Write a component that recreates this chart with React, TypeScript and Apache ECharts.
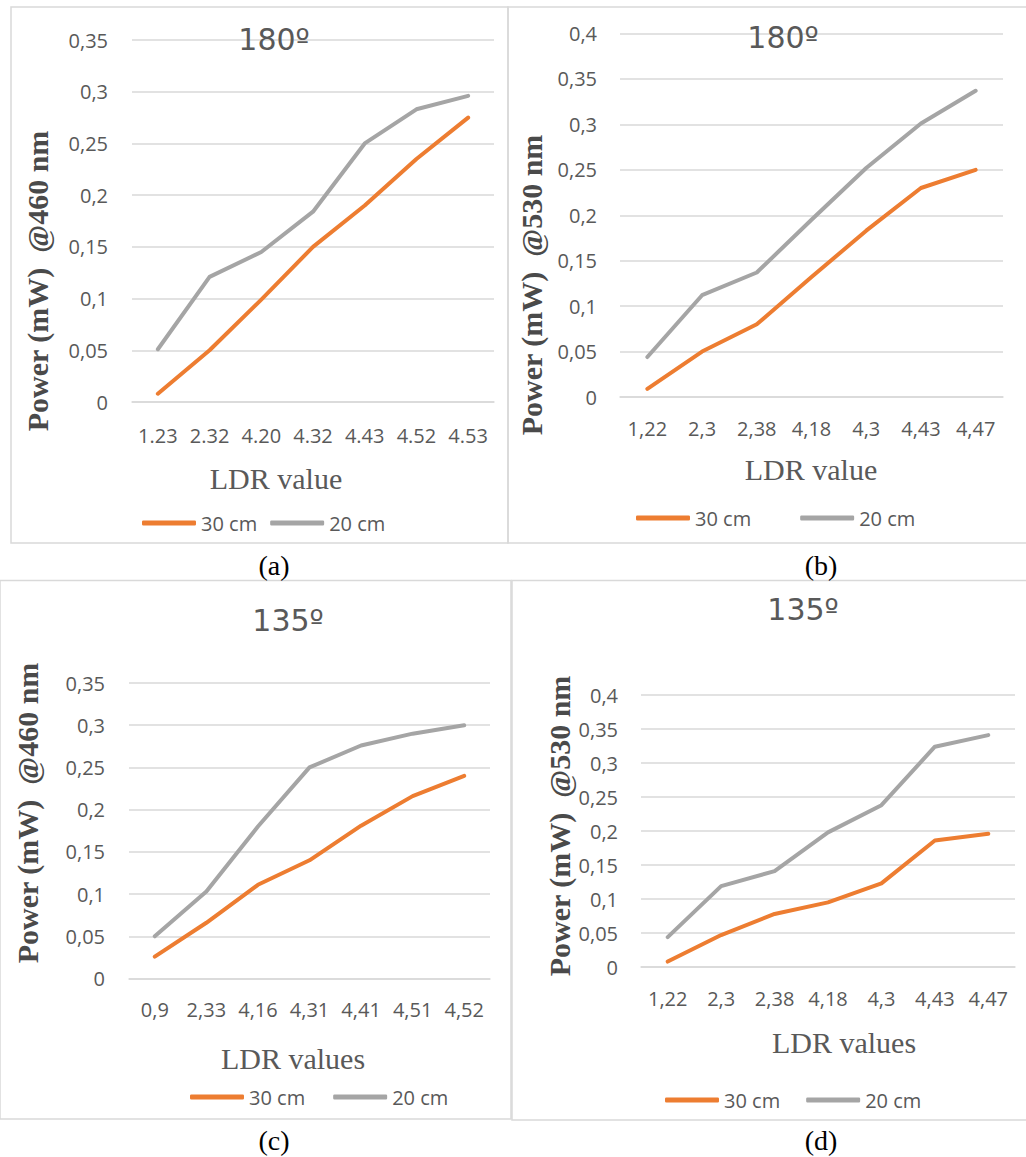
import React, { useEffect, useRef } from 'react';
import * as echarts from 'echarts';

// ---------- data ----------
const catsA = ['1.23', '2.32', '4.20', '4.32', '4.43', '4.52', '4.53'];
const a30 = [0.008, 0.05, 0.099, 0.15, 0.19, 0.235, 0.275];
const a20 = [0.051, 0.121, 0.145, 0.184, 0.25, 0.283, 0.296];

const catsB = ['1,22', '2,3', '2,38', '4,18', '4,3', '4,43', '4,47'];
const b30 = [0.009, 0.05, 0.08, 0.132, 0.183, 0.23, 0.25];
const b20 = [0.044, 0.112, 0.137, 0.195, 0.252, 0.301, 0.337];

const catsC = ['0,9', '2,33', '4,16', '4,31', '4,41', '4,51', '4,52'];
const c30 = [0.026, 0.066, 0.111, 0.14, 0.181, 0.216, 0.24];
const c20 = [0.05, 0.103, 0.18, 0.25, 0.276, 0.29, 0.3];

const catsD = ['1,22', '2,3', '2,38', '4,18', '4,3', '4,43', '4,47'];
const d30 = [0.008, 0.047, 0.078, 0.095, 0.123, 0.186, 0.196];
const d20 = [0.044, 0.119, 0.141, 0.198, 0.238, 0.324, 0.341];

const seriesNames = ['30 cm', '20 cm'];
const panelTitles = ['180º', '180º', '135º', '135º'];
const yTitles = ['Power (mW)  @460 nm', 'Power (mW)  @530 nm', 'Power (mW)  @460 nm', 'Power (mW)  @530 nm'];
const xTitles = ['LDR value', 'LDR value', 'LDR values', 'LDR values'];
const captions = ['(a)', '(b)', '(c)', '(d)'];
const yMaxes = [0.35, 0.4, 0.35, 0.4];

const panelData = [
  { cats: catsA, s30: a30, s20: a20 },
  { cats: catsB, s30: b30, s20: b20 },
  { cats: catsC, s30: c30, s20: c20 },
  { cats: catsD, s30: d30, s20: d20 },
];

// ---------- layout ----------
const W = 1026;
const H = 1157;
const layout = [
  { gl: 132, gr: 494, gt: 40, gb: 402, xm: 23, ym: 24, tx: 274, ty: 24, yx: 37, yy: 281, xx: 276, xy: 478, lx: 142, ly: 513, lg: 13, cx: 274, cy: 565, box: [11, 7, 497, 536] },
  { gl: 620, gr: 1003, gt: 33.5, gb: 397, xm: 21, ym: 23, tx: 783, ty: 22, yx: 531, yy: 285, xx: 811, xy: 469, lx: 636, ly: 508, lg: 49, cx: 821, cy: 565, box: [508, 7, 530, 536] },
  { gl: 129, gr: 490, gt: 683, gb: 978.5, xm: 21, ym: 24, tx: 288, ty: 605, yx: 27, yy: 813, xx: 293, xy: 1058, lx: 190, ly: 1087, lg: 28, cx: 274, cy: 1140, box: [0, 580.5, 511, 538.5] },
  { gl: 641, gr: 1015, gt: 695, gb: 967, xm: 21, ym: 23, tx: 803, ty: 594, yx: 559, yy: 826, xx: 844, xy: 1042, lx: 665, ly: 1090, lg: 26, cx: 821, cy: 1140, box: [512, 580.5, 530, 539.5] },
];

const ORANGE = '#ED7D31';
const GRAY = '#A5A5A5';
const TXT = '#595959';
const GRID = '#D9D9D9';
const SANS = 'Open Sans';
const TITLE_FONT = 'DejaVu Sans';
const SERIF = 'Liberation Serif';

const fmt = (v: number) => (v === 0 ? '0' : String(+v.toFixed(2)).replace('.', ','));

export default function App() {
  const ref = useRef<HTMLDivElement>(null);

  useEffect(() => {
    if (!ref.current) return;
    const chart = echarts.init(ref.current, undefined, { renderer: 'svg' });

    const grids: any[] = [];
    const xAxes: any[] = [];
    const yAxes: any[] = [];
    const series: any[] = [];
    const titles: any[] = [];
    const legends: any[] = [];
    const graphics: any[] = [];

    panelData.forEach((p, i) => {
      const L = layout[i];
      grids.push({ left: L.gl, right: W - L.gr, top: L.gt, bottom: H - L.gb, containLabel: false });
      xAxes.push({
        type: 'category',
        gridIndex: i,
        data: p.cats,
        boundaryGap: true,
        axisLine: { show: true, lineStyle: { color: GRID, width: 1.5 } },
        axisTick: { show: false },
        axisLabel: { color: TXT, fontFamily: SANS, fontSize: 20, margin: L.xm, interval: 0 },
        splitLine: { show: false },
      });
      yAxes.push({
        type: 'value',
        gridIndex: i,
        min: 0,
        max: yMaxes[i],
        interval: 0.05,
        axisLine: { show: false },
        axisTick: { show: false },
        axisLabel: { color: TXT, fontFamily: SANS, fontSize: 20, margin: L.ym, formatter: fmt },
        splitLine: { show: true, lineStyle: { color: GRID, width: 1.5 } },
      });
      [p.s30, p.s20].forEach((vals, k) => {
        series.push({
          type: 'line',
          name: seriesNames[k],
          xAxisIndex: i,
          yAxisIndex: i,
          data: vals,
          symbol: 'none',
          color: k === 0 ? ORANGE : GRAY,
          lineStyle: { width: 4, color: k === 0 ? ORANGE : GRAY, cap: 'round', join: 'round' },
          z: k === 0 ? 3 : 2,
        });
      });
      titles.push({
        text: panelTitles[i],
        left: L.tx,
        top: L.ty,
        textAlign: 'center',
        padding: 0,
        textStyle: { fontFamily: TITLE_FONT, fontSize: 30, fontWeight: 'normal', color: TXT },
      });
      legends.push({
        data: seriesNames,
        left: L.lx,
        top: L.ly,
        padding: 0,
        itemGap: L.lg,
        itemWidth: 54,
        itemHeight: 5,
        icon: 'roundRect',
        textStyle: { fontFamily: SANS, fontSize: 20, color: TXT },
      });
      graphics.push({
        type: 'rect',
        shape: { x: L.box[0], y: L.box[1], width: L.box[2], height: L.box[3] },
        style: { fill: 'none', stroke: GRID, lineWidth: 1.5 },
        z: -10,
        silent: true,
      });
      graphics.push({
        type: 'text',
        x: L.yx,
        y: L.yy,
        rotation: Math.PI / 2,
        style: {
          text: yTitles[i],
          fontFamily: SERIF,
          fontSize: 30,
          fontWeight: 'bold',
          fill: '#4a4a4a',
          textAlign: 'center',
          textVerticalAlign: 'middle',
        },
      });
      graphics.push({
        type: 'text',
        x: L.xx,
        y: L.xy,
        style: {
          text: xTitles[i],
          fontFamily: SERIF,
          fontSize: 30,
          fill: TXT,
          textAlign: 'center',
          textVerticalAlign: 'middle',
        },
      });
      graphics.push({
        type: 'text',
        x: L.cx,
        y: L.cy,
        style: {
          text: captions[i],
          fontFamily: SERIF,
          fontSize: 28,
          fill: '#000000',
          textAlign: 'center',
          textVerticalAlign: 'middle',
        },
      });
    });

    chart.setOption({
      animation: false,
      backgroundColor: '#ffffff',
      title: titles,
      legend: legends,
      grid: grids,
      xAxis: xAxes,
      yAxis: yAxes,
      series,
      graphic: { elements: graphics },
    });

    return () => chart.dispose();
  }, []);

  return (
    <div
      ref={ref}
      style={{ position: 'absolute', left: 0, top: 0, width: W, height: H, background: '#ffffff' }}
    />
  );
}
